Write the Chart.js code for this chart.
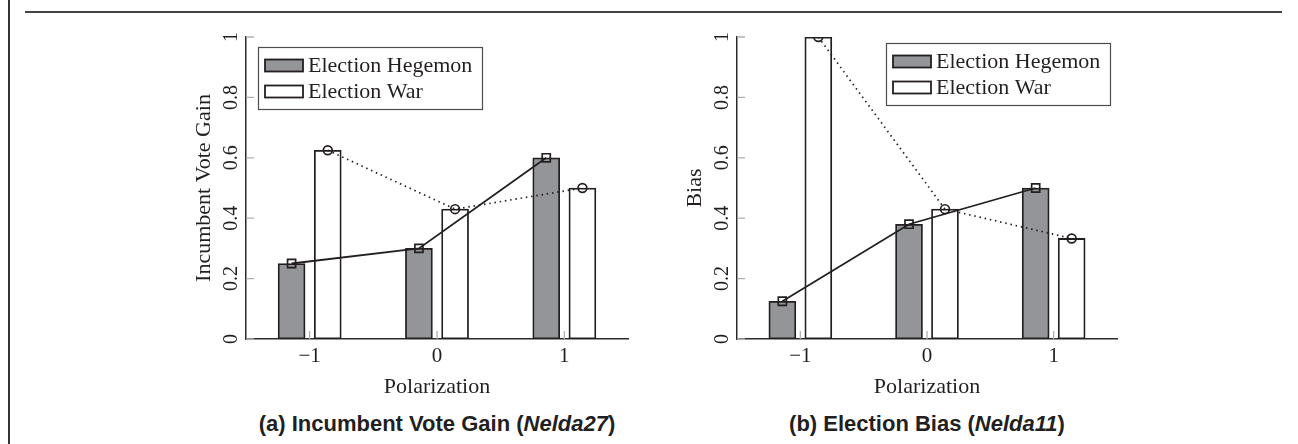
<!DOCTYPE html>
<html lang="en">
<head>
    <meta charset="UTF-8">
    <title>Election Hegemon vs Election War</title>
    <script src="https://cdn.jsdelivr.net/npm/chart.js"></script>
    <style>
        body {
            margin: 0;
            width: 1298px;
            height: 444px;
            background: #fff;
            position: relative;
            overflow: hidden;
        }
        /* frame lines of the figure */
        #frameLeft { position: absolute; left: 8px; top: 0; width: 2px; height: 444px; background: #333; }
        #frameTop { position: absolute; left: 25px; top: 11px; width: 1257px; height: 2px; background: #444; }

        canvas { position: absolute; top: 0; }
        #chartA { left: 140px; }
        #chartB { left: 640px; }

        .caption {
            position: absolute;
            top: 411px;
            width: 500px;
            text-align: center;
            font-family: "Liberation Sans", Arial, sans-serif;
            font-weight: bold;
            font-size: 22px;
            line-height: 26px;
            color: #231f20;
        }
        #captionA { left: 187px; }
        #captionB { left: 677px; }
    </style>
</head>
<body>
    <div id="frameLeft"></div>
    <div id="frameTop"></div>

    <canvas id="chartA" width="500" height="400"></canvas>
    <canvas id="chartB" width="500" height="400"></canvas>

    <div class="caption" id="captionA">(a) Incumbent Vote Gain (<i>Nelda27</i>)</div>
    <div class="caption" id="captionB">(b) Election Bias (<i>Nelda11</i>)</div>

    <script>
        // values
        const categories = [-1, 0, 1];
        const xTickLabels = ['\u22121', '0', '1'];
        const yTicks = [0, 0.2, 0.4, 0.6, 0.8, 1];
        const yTickLabels = ['0', '0.2', '0.4', '0.6', '0.8', '1'];
        const seriesNames = ['Election Hegemon', 'Election War'];

        const voteGainHegemon = [0.25, 0.30, 0.60];
        const voteGainWar = [0.625, 0.43, 0.50];
        const biasHegemon = [0.125, 0.38, 0.50];
        const biasWar = [1.0, 0.43, 0.333];

        // bar offset from the category, in axis units
        const OFFSET = 0.142;
        const INK = '#231f20';
        const GRAY = '#939598';
        const SERIF = '"Liberation Serif", "Times New Roman", serif';

        function points(values, shift) {
            return categories.map((c, i) => ({ x: c + shift, y: values[i] }));
        }

        // ticks pointing inside, rotated y labels, y title and the boxed legend
        const axisDecor = {
            id: 'axisDecor',
            beforeDatasetsDraw(chart) {
                const { ctx, chartArea: a, scales: { x, y } } = chart;
                ctx.save();
                ctx.strokeStyle = '#b0b0b0';
                ctx.lineWidth = 1.3;
                ctx.beginPath();
                categories.forEach(c => {
                    const px = x.getPixelForValue(c);
                    ctx.moveTo(px, a.bottom);
                    ctx.lineTo(px, a.bottom - 8);
                });
                yTicks.forEach(v => {
                    const py = y.getPixelForValue(v);
                    ctx.moveTo(a.left, py);
                    ctx.lineTo(a.left + 8, py);
                });
                ctx.stroke();
                ctx.restore();
            },
            afterDraw(chart, args, opts) {
                const { ctx, chartArea: a, scales: { y } } = chart;
                ctx.save();
                ctx.fillStyle = INK;
                ctx.textAlign = 'center';
                ctx.textBaseline = 'alphabetic';

                // y tick labels, rotated like the original
                ctx.font = '20px ' + SERIF;
                yTicks.forEach((v, i) => {
                    ctx.save();
                    ctx.translate(a.left - 9, y.getPixelForValue(v));
                    ctx.rotate(-Math.PI / 2);
                    ctx.fillText(yTickLabels[i], 0, 0);
                    ctx.restore();
                });

                // y title
                ctx.font = '22px ' + SERIF;
                ctx.save();
                ctx.translate(a.left - 36, (a.top + a.bottom) / 2);
                ctx.rotate(-Math.PI / 2);
                ctx.fillText(opts.yTitle, 0, 0);
                ctx.restore();

                // legend box
                const w = 224, h = 62;
                const bx = opts.legendSide === 'right' ? a.right - opts.dx - w : a.left + opts.dx;
                const by = a.top + opts.dy;
                ctx.fillStyle = '#fff';
                ctx.fillRect(bx, by, w, h);
                ctx.strokeStyle = '#4d4d4d';
                ctx.lineWidth = 1.2;
                ctx.strokeRect(bx + 0.5, by + 0.5, w, h);

                const bars = chart.data.datasets.filter(d => d.type === 'bar');
                const rows = [18.5, 44.5];
                ctx.textAlign = 'left';
                ctx.textBaseline = 'middle';
                bars.forEach((d, i) => {
                    const ry = by + rows[i];
                    ctx.fillStyle = d.backgroundColor;
                    ctx.fillRect(bx + 7, ry - 6, 38, 12);
                    ctx.strokeStyle = d.borderColor;
                    ctx.lineWidth = 1.8;
                    ctx.strokeRect(bx + 7, ry - 6, 38, 12);
                    ctx.fillStyle = INK;
                    ctx.fillText(d.label, bx + 50, ry + 1);
                });
                ctx.restore();
            }
        };

        function buildChart(id, hegemon, war, decor, padRight, axisWidth) {
            const ctx = document.getElementById(id).getContext('2d');
            return new Chart(ctx, {
                data: {
                    datasets: [
                        {
                            type: 'line',
                            label: seriesNames[0] + ' line',
                            data: points(hegemon, -OFFSET),
                            borderColor: INK,
                            borderWidth: 1.8,
                            pointStyle: 'rect',
                            pointRadius: 5.7,
                            pointBorderWidth: 1.7,
                            pointBorderColor: INK,
                            pointBackgroundColor: 'rgba(0,0,0,0)',
                            order: 0
                        },
                        {
                            type: 'line',
                            label: seriesNames[1] + ' line',
                            data: points(war, OFFSET),
                            borderColor: INK,
                            borderWidth: 1.7,
                            borderDash: [1.5, 3.8],
                            pointStyle: 'circle',
                            pointRadius: 4.4,
                            pointBorderWidth: 1.7,
                            pointBorderColor: INK,
                            pointBackgroundColor: 'rgba(0,0,0,0)',
                            order: 0
                        },
                        {
                            type: 'bar',
                            label: seriesNames[0],
                            data: points(hegemon, -OFFSET),
                            backgroundColor: GRAY,
                            borderColor: INK,
                            borderWidth: 1.8,
                            borderSkipped: false,
                            barThickness: 27,
                            grouped: false,
                            order: 1
                        },
                        {
                            type: 'bar',
                            label: seriesNames[1],
                            data: points(war, OFFSET),
                            backgroundColor: '#ffffff',
                            borderColor: INK,
                            borderWidth: 1.8,
                            borderSkipped: false,
                            barThickness: 27,
                            grouped: false,
                            order: 1
                        }
                    ]
                },
                options: {
                    responsive: false,
                    animation: false,
                    events: [],
                    layout: { padding: { left: 0, right: padRight, top: 37, bottom: 0 } },
                    scales: {
                        x: {
                            type: 'linear',
                            min: -1.5,
                            max: 1.5,
                            offset: false,
                            afterBuildTicks: s => { s.ticks = categories.map(v => ({ value: v })); },
                            afterFit: s => { s.height = 61; },
                            grid: { display: false, drawTicks: false },
                            border: { display: true, color: '#2b2b2b', width: 1.5 },
                            ticks: {
                                padding: 5,
                                color: INK,
                                font: { family: SERIF, size: 21 },
                                callback: v => xTickLabels[categories.indexOf(v)]
                            },
                            title: {
                                display: true,
                                text: 'Polarization',
                                color: INK,
                                font: { family: SERIF, size: 22 },
                                padding: { top: 0, bottom: 0 }
                            }
                        },
                        y: {
                            min: 0,
                            max: 1,
                            afterFit: s => { s.width = axisWidth; },
                            grid: { display: false, drawTicks: false },
                            border: { display: true, color: '#2b2b2b', width: 1.5 },
                            ticks: { display: false, stepSize: 0.2 }
                        }
                    },
                    plugins: {
                        legend: { display: false },
                        tooltip: { enabled: false },
                        axisDecor: decor
                    }
                },
                plugins: [axisDecor]
            });
        }

        buildChart('chartA', voteGainHegemon, voteGainWar,
            { yTitle: 'Incumbent Vote Gain', legendSide: 'left', dx: 12, dy: 10 }, 12, 106);
        buildChart('chartB', biasHegemon, biasWar,
            { yTitle: 'Bias', legendSide: 'right', dx: 7, dy: 6 }, 23, 97);
    </script>
</body>
</html>
